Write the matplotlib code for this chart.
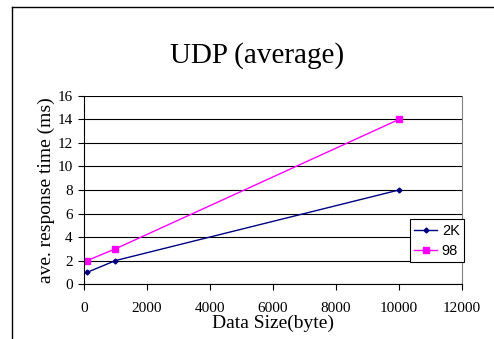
import matplotlib.pyplot as plt
from matplotlib.lines import Line2D

plt.rcParams["font.family"] = "Liberation Serif"

# data
size = [100, 1000, 10000]
t_2k = [1, 2, 8]
t_98 = [2, 3, 14]
xticks = [0, 2000, 4000, 6000, 8000, 10000, 12000]
yticks = [0, 2, 4, 6, 8, 10, 12, 14, 16]

fig = plt.figure(figsize=(4.94, 3.39), dpi=100)
ax = fig.add_axes([0.170, 0.162, 0.765, 0.555])

# outer chart frame (left and top edges visible)
fig.add_artist(Line2D([12/494, 12/494], [0, 1 - 7/339], color='black', lw=1))
fig.add_artist(Line2D([12/494, 1], [1 - 7/339, 1 - 7/339], color='black', lw=1))

ax.plot(size, t_2k, color='#000080', marker='D', markersize=2.5, lw=1, label='2K')
ax.plot(size, t_98, color='#FF00FF', marker='s', markersize=4, lw=1, label='98')

ax.set_xlim(0, 12000)
ax.set_ylim(0, 16)
ax.set_xticks(xticks)
ax.set_yticks(yticks)
ax.tick_params(labelsize=11, length=4, width=0.8, direction='out')
ax.tick_params(axis='x', pad=9)
ax.tick_params(axis='y', pad=4)
ax.grid(axis='y', color='black', lw=0.8)
ax.set_axisbelow(True)
ax.spines['right'].set_color('gray')
ax.spines['top'].set_visible(False)

ax.set_xlabel('Data Size(byte)', fontsize=14, labelpad=0)
ax.set_ylabel('ave. response time (ms)', fontsize=14, labelpad=2)
fig.text(0.52, 0.835, 'UDP (average)', fontsize=21, ha='center', va='center')

leg = ax.legend(loc='lower left', bbox_to_anchor=(0.862, 0.117), fancybox=False,
                edgecolor='black', framealpha=1, prop={'family': 'Liberation Sans', 'size': 10.5},
                handlelength=1.6, handletextpad=0.3, borderpad=0.3, labelspacing=0.4,
                borderaxespad=0)
leg.get_frame().set_linewidth(0.8)

fig.savefig('out.png', dpi=100)
